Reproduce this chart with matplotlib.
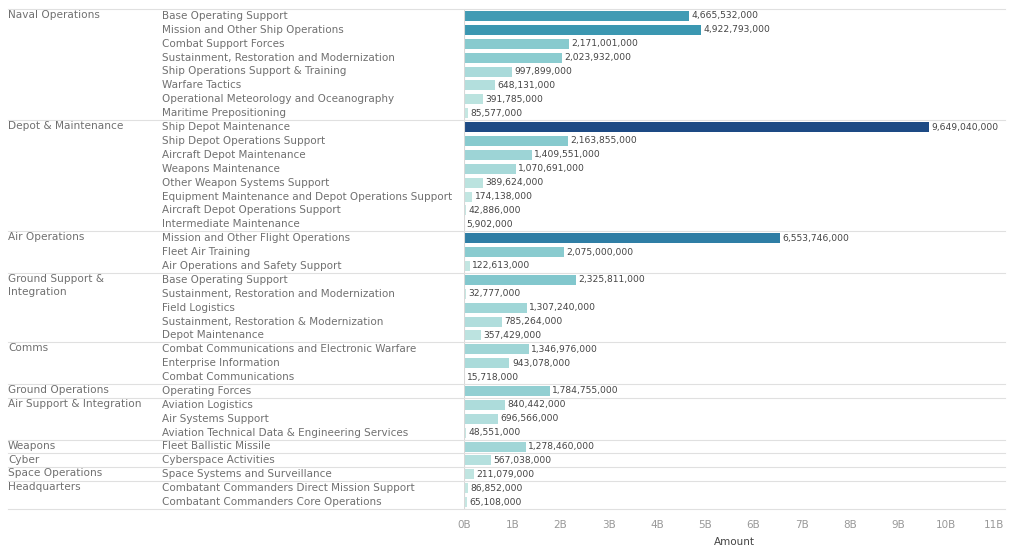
import matplotlib
matplotlib.use("Agg")
import matplotlib.pyplot as plt
from matplotlib.colors import LinearSegmentedColormap, Normalize
from matplotlib.transforms import blended_transform_factory
from matplotlib.ticker import FuncFormatter

# categories with their sub-programs and amounts (USD)
groups = [
    "Naval Operations", "Depot & Maintenance", "Air Operations",
    "Ground Support &\nIntegration", "Comms", "Ground Operations",
    "Air Support & Integration", "Weapons", "Cyber", "Space Operations",
    "Headquarters",
]

programs = [
    ["Base Operating Support", "Mission and Other Ship Operations",
     "Combat Support Forces", "Sustainment, Restoration and Modernization",
     "Ship Operations Support & Training", "Warfare Tactics",
     "Operational Meteorology and Oceanography", "Maritime Prepositioning"],
    ["Ship Depot Maintenance", "Ship Depot Operations Support",
     "Aircraft Depot Maintenance", "Weapons Maintenance",
     "Other Weapon Systems Support",
     "Equipment Maintenance and Depot Operations Support",
     "Aircraft Depot Operations Support", "Intermediate Maintenance"],
    ["Mission and Other Flight Operations", "Fleet Air Training",
     "Air Operations and Safety Support"],
    ["Base Operating Support", "Sustainment, Restoration and Modernization",
     "Field Logistics", "Sustainment, Restoration & Modernization",
     "Depot Maintenance"],
    ["Combat Communications and Electronic Warfare", "Enterprise Information",
     "Combat Communications"],
    ["Operating Forces"],
    ["Aviation Logistics", "Air Systems Support",
     "Aviation Technical Data & Engineering Services"],
    ["Fleet Ballistic Missile"],
    ["Cyberspace Activities"],
    ["Space Systems and Surveillance"],
    ["Combatant Commanders Direct Mission Support",
     "Combatant Commanders Core Operations"],
]

amounts = [
    [4665532000, 4922793000, 2171001000, 2023932000, 997899000, 648131000,
     391785000, 85577000],
    [9649040000, 2163855000, 1409551000, 1070691000, 389624000, 174138000,
     42886000, 5902000],
    [6553746000, 2075000000, 122613000],
    [2325811000, 32777000, 1307240000, 785264000, 357429000],
    [1346976000, 943078000, 15718000],
    [1784755000],
    [840442000, 696566000, 48551000],
    [1278460000],
    [567038000],
    [211079000],
    [86852000, 65108000],
]

ticks = list(range(0, 12))

labels = [p for grp in programs for p in grp]
values = [v for grp in amounts for v in grp]
n = len(values)

cmap = LinearSegmentedColormap.from_list(
    "blueteal", ["#c6e8e3", "#7fc6cc", "#3c98b2", "#2a73a0", "#1d4a84"])
norm = Normalize(0, max(values))

fig = plt.figure(figsize=(10.14, 5.49), dpi=100)
ax = fig.add_axes([464 / 1014, 1 - 509 / 549, 541 / 1014, 500 / 549])

ypos = list(range(n))
ax.barh(ypos, values, height=0.72, color=[cmap(norm(v)) for v in values])
ax.set_ylim(n - 0.5, -0.5)
ax.set_xlim(0, 11.22e9)

for y, v in zip(ypos, values):
    ax.text(v + 0.05e9, y, f"{v:,}", va="center", ha="left",
            fontsize=6.6, color="#444444")

ax.set_xticks([t * 1e9 for t in ticks])
ax.xaxis.set_major_formatter(FuncFormatter(lambda x, p: f"{x / 1e9:.0f}B"))
ax.tick_params(axis="x", length=0, labelsize=7.5, labelcolor="#999999", pad=8)
ax.set_yticks([])
for s in ax.spines.values():
    s.set_visible(False)
ax.axvline(0, color="#d8d8d8", lw=0.8)
ax.set_xlabel("Amount", fontsize=7.5, color="#444444", labelpad=5)

# row headers and group separators
tr = blended_transform_factory(fig.transFigure, ax.transData)
start = 0
ax.plot([8 / 1014, 1005 / 1014], [-0.5, -0.5], transform=tr, color="#e0e0e0",
        lw=0.8, clip_on=False)
for grp, progs in zip(groups, programs):
    ax.text(8 / 1014, start - 0.42, grp, transform=tr, va="top", ha="left",
            fontsize=7.6, color="#707070", linespacing=1.4)
    for i, p in enumerate(progs):
        ax.text(162 / 1014, start + i, p, transform=tr, va="center", ha="left",
                fontsize=7.5, color="#707070")
    start += len(progs)
    ax.plot([8 / 1014, 1005 / 1014], [start - 0.5, start - 0.5], transform=tr,
            color="#e0e0e0", lw=0.8, clip_on=False)

fig.savefig("out.png", dpi=100)
